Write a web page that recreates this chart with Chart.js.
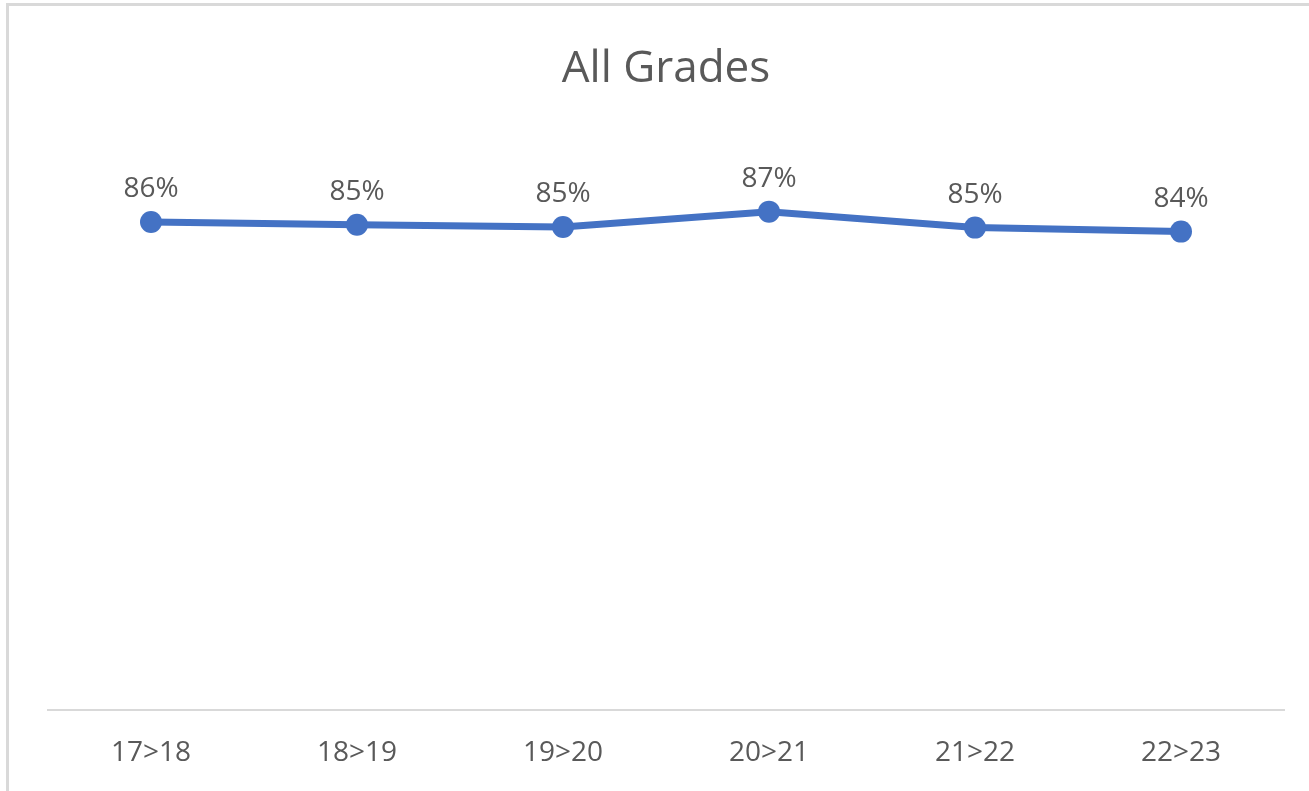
<!DOCTYPE html>
<html>
<head>
<meta charset="utf-8">
<title>All Grades</title>
<script src="https://cdn.jsdelivr.net/npm/chart.js@4"></script>
<style>
    html, body { margin: 0; padding: 0; background: #fff; overflow: hidden; }
    #wrap { position: relative; width: 1309px; height: 791px; }
    #frame {
        position: absolute; left: 6px; top: 3px; width: 1320px; height: 820px;
        border: 3px solid #d9d9d9; box-sizing: border-box; pointer-events: none;
    }
</style>
</head>
<body>
<div id="wrap">
    <canvas id="chart" width="1309" height="791"></canvas>
    <div id="frame"></div>
</div>
<script>
const categories = ["17>18", "18>19", "19>20", "20>21", "21>22", "22>23"];
const retention = [0.856, 0.851, 0.847, 0.874, 0.846, 0.839];

const textColor = "#595959";
const lineColor = "#4472c4";

// draws the percent label above each point, like excel data labels
const pointLabels = {
    id: "pointLabels",
    afterDatasetsDraw(chart) {
        const ctx = chart.ctx;
        const meta = chart.getDatasetMeta(0);
        ctx.save();
        ctx.font = "28px 'Open Sans'";
        ctx.fillStyle = textColor;
        ctx.textAlign = "center";
        ctx.textBaseline = "middle";
        meta.data.forEach((pt, i) => {
            const label = Math.round(retention[i] * 100) + "%";
            ctx.fillText(label, pt.x, pt.y - 33);
        });
        ctx.restore();
    }
};

const ctx = document.getElementById("chart").getContext("2d");

new Chart(ctx, {
    type: "line",
    data: {
        labels: categories,
        datasets: [{
            label: "All Grades",
            data: retention,
            borderColor: lineColor,
            backgroundColor: lineColor,
            borderWidth: 7,
            pointRadius: 11,
            pointHoverRadius: 11,
            pointBackgroundColor: lineColor,
            pointBorderWidth: 0,
            tension: 0
        }]
    },
    options: {
        responsive: false,
        animation: false,
        layout: {
            padding: { top: 17, left: 48, right: 25, bottom: 21 }
        },
        plugins: {
            legend: { display: false },
            tooltip: { enabled: false },
            title: {
                display: true,
                text: "All Grades",
                color: textColor,
                font: { family: "'Open Sans'", size: 44, weight: "normal" },
                padding: { top: 26, bottom: 44 }
            }
        },
        scales: {
            x: {
                offset: true,
                grid: { display: false, drawTicks: false },
                border: { display: true, color: "#d9d9d9", width: 2 },
                ticks: {
                    color: textColor,
                    padding: 26,
                    font: { family: "'Open Sans'", size: 28 }
                },
                afterFit(scale) {
                    scale.height = 60;
                }
            },
            y: {
                display: false,
                min: 0,
                max: 1
            }
        }
    },
    plugins: [pointLabels]
});
</script>
</body>
</html>
